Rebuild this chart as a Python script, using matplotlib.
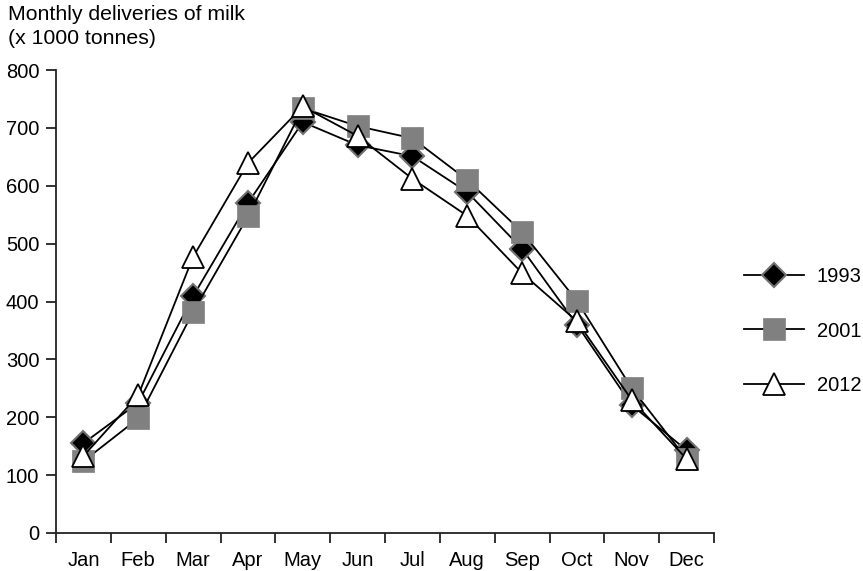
import matplotlib
matplotlib.use("Agg")
import matplotlib.pyplot as plt
from matplotlib.ticker import FixedLocator, NullFormatter, FixedFormatter

plt.rcParams['font.family'] = ['Liberation Sans', 'DejaVu Sans']

months = ["Jan", "Feb", "Mar", "Apr", "May", "Jun", "Jul", "Aug", "Sep", "Oct", "Nov", "Dec"]
y1993 = [155, 225, 409, 570, 710, 670, 651, 589, 491, 360, 221, 143]
y2001 = [124, 198, 382, 547, 734, 703, 682, 610, 520, 401, 250, 128]
y2012 = [133, 238, 477, 639, 737, 686, 612, 548, 449, 366, 230, 128]
yticks = [0, 100, 200, 300, 400, 500, 600, 700, 800]

fig = plt.figure(figsize=(8.63, 5.71), dpi=100)
ax = fig.add_axes([56/863, 38/571, 658/863, 463/571])

x = [i + 0.5 for i in range(len(months))]

ax.plot(x, y1993, color='black', lw=1.3, marker='D', markersize=12.5,
        markerfacecolor='black', markeredgecolor='#707070', markeredgewidth=1.5,
        label='1993', zorder=3, clip_on=False)
ax.plot(x, y2001, color='black', lw=1.3, marker='s', markersize=16.5,
        markerfacecolor='#808080', markeredgecolor='#808080', markeredgewidth=0.5,
        label='2001', zorder=4, clip_on=False)
ax.plot(x, y2012, color='black', lw=1.3, marker='^', markersize=16.5,
        markerfacecolor='white', markeredgecolor='black', markeredgewidth=1.3,
        label='2012', zorder=5, clip_on=False)

ax.set_xlim(0, 12)
ax.set_ylim(0, 800)
ax.spines['top'].set_visible(False)
ax.spines['right'].set_visible(False)
for s in ('left', 'bottom'):
    ax.spines[s].set_linewidth(1.3)
    ax.spines[s].set_color('#222222')

ax.xaxis.set_major_locator(FixedLocator(list(range(13))))
ax.xaxis.set_major_formatter(NullFormatter())
ax.xaxis.set_minor_locator(FixedLocator(x))
ax.xaxis.set_minor_formatter(FixedFormatter(months))
ax.tick_params(axis='x', which='major', length=7, width=1.3, direction='out', color='#222222')
ax.tick_params(axis='x', which='minor', length=0, labelsize=14.5, pad=13)
ax.set_yticks(yticks)
ax.tick_params(axis='y', length=7, width=1.3, direction='out', labelsize=14.5, pad=5, color='#222222')

fig.text(8/863, 1 - 15/571, "Monthly deliveries of milk", fontsize=15.3, va='center', ha='left')
fig.text(8/863, 1 - 39/571, "(x 1000 tonnes)", fontsize=15.3, va='center', ha='left')

leg = ax.legend(loc='center left', bbox_to_anchor=(744/863, 1 - 331/571),
                bbox_transform=fig.transFigure, frameon=False, fontsize=14.5,
                handlelength=3.0, handletextpad=0.6, labelspacing=1.78,
                borderpad=0, borderaxespad=0)

fig.savefig("out.png", dpi=100)
